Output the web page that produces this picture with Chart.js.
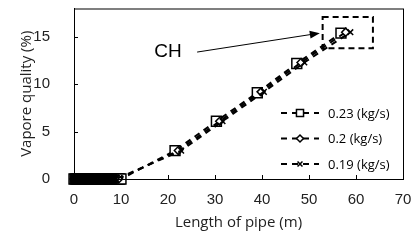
<!DOCTYPE html>
<html>
<head>
<meta charset="utf-8">
<script src="https://cdn.jsdelivr.net/npm/chart.js@4.4.0/dist/chart.umd.min.js"></script>
<style>
  html, body { margin: 0; padding: 0; background: #fff; }
</style>
</head>
<body>
<canvas id="myChart" width="416" height="240"></canvas>
<script>
// values
var seriesLabels = ['0.23 (kg/s)', '0.2 (kg/s)', '0.19 (kg/s)'];

var length023 = [0, 0.25, 0.5, 0.75, 1, 1.25, 1.5, 1.75, 2, 2.25, 2.5, 2.75, 3, 3.25, 3.5, 3.75, 4, 4.25, 4.5, 4.75, 5,
  5.25, 5.5, 5.75, 6, 6.25, 6.5, 6.75, 7, 7.25, 7.5, 7.75, 8, 8.25, 8.5, 8.75, 9, 9.25, 9.5, 9.75, 10,
  21.5, 30.3, 39.0, 47.4, 56.8];
var quality023 = [0, 0, 0, 0, 0, 0, 0, 0, 0, 0, 0, 0, 0, 0, 0, 0, 0, 0, 0, 0, 0,
  0, 0, 0, 0, 0, 0, 0, 0, 0, 0, 0, 0, 0, 0, 0, 0, 0, 0, 0, 0,
  3.0, 6.1, 9.1, 12.2, 15.4];

var length020 = [0, 0.25, 0.5, 0.75, 1, 1.25, 1.5, 1.75, 2, 2.25, 2.5, 2.75, 3, 3.25, 3.5, 3.75, 4, 4.25, 4.5, 4.75, 5,
  5.25, 5.5, 5.75, 6, 6.25, 6.5, 6.75, 7, 7.25, 7.5, 7.75, 8, 8.25, 8.5, 8.75, 9, 9.25, 9.5,
  22.2, 31.0, 39.8, 48.3, 57.8];
var quality020 = [0, 0, 0, 0, 0, 0, 0, 0, 0, 0, 0, 0, 0, 0, 0, 0, 0, 0, 0, 0, 0,
  0, 0, 0, 0, 0, 0, 0, 0, 0, 0, 0, 0, 0, 0, 0, 0, 0, 0,
  3.0, 6.1, 9.2, 12.3, 15.5];

var length019 = [0, 0.25, 0.5, 0.75, 1, 1.25, 1.5, 1.75, 2, 2.25, 2.5, 2.75, 3, 3.25, 3.5, 3.75, 4, 4.25, 4.5, 4.75, 5,
  5.25, 5.5, 5.75, 6, 6.25, 6.5, 6.75, 7, 7.25, 7.5, 7.75, 8, 8.25, 8.5, 8.75, 9,
  22.8, 31.6, 40.4, 49.0, 58.8];
var quality019 = [0, 0, 0, 0, 0, 0, 0, 0, 0, 0, 0, 0, 0, 0, 0, 0, 0, 0, 0, 0, 0,
  0, 0, 0, 0, 0, 0, 0, 0, 0, 0, 0, 0, 0, 0, 0, 0,
  3.0, 6.1, 9.2, 12.3, 15.5];

var xTicks = [0, 10, 20, 30, 40, 50, 60, 70];
var yTicks = [0, 5, 10, 15];

function toPoints(xs, ys) {
  return xs.map(function (x, i) { return { x: x, y: ys[i] }; });
}

var pointStyles = ['rect', 'rectRot', 'crossRot'];
var pointRadii = [7, 4, 4];
var dash = [6, 5];

// frame, inside tick marks, legend and the CH callout
var extras = {
  id: 'extras',
  afterDraw: function (chart) {
    var ctx = chart.ctx;
    var a = chart.chartArea;
    var xs = chart.scales.x, ys = chart.scales.y;
    ctx.save();
    ctx.strokeStyle = '#000';
    ctx.lineWidth = 1;
    ctx.strokeRect(a.left + 0.5, a.top + 0.5, a.right - a.left, a.bottom - a.top);

    ctx.beginPath();
    xTicks.forEach(function (v) {
      var px = Math.round(xs.getPixelForValue(v)) + 0.5;
      ctx.moveTo(px, a.bottom);
      ctx.lineTo(px, a.bottom - 4);
    });
    yTicks.forEach(function (v) {
      var py = Math.round(ys.getPixelForValue(v)) + 0.5;
      ctx.moveTo(a.left, py);
      ctx.lineTo(a.left + 4, py);
    });
    ctx.stroke();

    // CH callout
    ctx.fillStyle = '#000';
    ctx.font = '19px "Liberation Sans", Arial, sans-serif';
    ctx.textAlign = 'center';
    ctx.textBaseline = 'middle';
    ctx.fillText('CH', xs.getPixelForValue(20), ys.getPixelForValue(13.4));

    var x0 = xs.getPixelForValue(26.2), y0 = ys.getPixelForValue(13.4);
    var x1 = xs.getPixelForValue(52.3), y1 = ys.getPixelForValue(15.4);
    var ang = Math.atan2(y1 - y0, x1 - x0);
    ctx.beginPath();
    ctx.moveTo(x0, y0);
    ctx.lineTo(x1 - 8 * Math.cos(ang), y1 - 8 * Math.sin(ang));
    ctx.stroke();
    ctx.beginPath();
    ctx.moveTo(x1, y1);
    ctx.lineTo(x1 - 10 * Math.cos(ang) + 4 * Math.sin(ang), y1 - 10 * Math.sin(ang) - 4 * Math.cos(ang));
    ctx.lineTo(x1 - 10 * Math.cos(ang) - 4 * Math.sin(ang), y1 - 10 * Math.sin(ang) + 4 * Math.cos(ang));
    ctx.closePath();
    ctx.fill();

    ctx.lineWidth = 2;
    ctx.setLineDash([6, 4]);
    var rx0 = xs.getPixelForValue(52.9), rx1 = xs.getPixelForValue(63.6);
    var ry0 = ys.getPixelForValue(17.1), ry1 = ys.getPixelForValue(13.8);
    ctx.strokeRect(rx0, ry0, rx1 - rx0, ry1 - ry0);

    // legend
    ctx.font = '13px "Open Sans", sans-serif';
    ctx.textAlign = 'left';
    seriesLabels.forEach(function (lab, i) {
      var ly = a.bottom - 66 + i * 25.5;
      var lx = a.right - 122;
      ctx.strokeStyle = '#000';
      ctx.lineWidth = 2;
      ctx.setLineDash(dash);
      ctx.beginPath();
      ctx.moveTo(lx, ly);
      ctx.lineTo(lx + 38, ly);
      ctx.stroke();
      ctx.setLineDash([]);
      ctx.lineWidth = 1.5;
      ctx.fillStyle = '#fff';
      Chart.helpers.drawPoint(ctx, {
        pointStyle: pointStyles[i],
        radius: i === 0 ? 5 : 3.5,
        borderWidth: 1.5
      }, lx + 19, ly);
      ctx.fillStyle = '#000';
      ctx.fillText(lab, lx + 47, ly + 1);
    });
    ctx.restore();
  }
};

var ctx = document.getElementById('myChart');

var myChart = new Chart(ctx, {
  type: 'scatter',
  data: {
    datasets: [
      { label: seriesLabels[0], data: toPoints(length023, quality023), order: 3 },
      { label: seriesLabels[1], data: toPoints(length020, quality020), order: 2 },
      { label: seriesLabels[2], data: toPoints(length019, quality019), order: 1 }
    ].map(function (d, i) {
      d.showLine = true;
      d.clip = false;
      d.borderColor = '#000';
      d.backgroundColor = '#fff';
      d.borderWidth = 2;
      d.borderDash = dash;
      d.pointStyle = pointStyles[i];
      d.pointRadius = pointRadii[i];
      d.pointBorderWidth = 1.5;
      d.pointBackgroundColor = '#fff';
      d.pointBorderColor = '#000';
      return d;
    })
  },
  options: {
    responsive: false,
    animation: false,
    devicePixelRatio: 1,
    layout: { padding: { top: 8, right: 13, left: 0, bottom: 0 } },
    plugins: { legend: { display: false }, tooltip: { enabled: false } },
    scales: {
      x: {
        type: 'linear',
        min: 0,
        max: 70,
        afterBuildTicks: function (s) { s.ticks = xTicks.map(function (v) { return { value: v }; }); },
        afterFit: function (s) { s.height = 61; s.paddingRight = 0; },
        ticks: { color: '#222', padding: 4, font: { family: '"Liberation Sans", Arial', size: 15 } },
        grid: { display: false },
        border: { display: true, color: '#000' },
        title: {
          display: true,
          text: 'Length of pipe (m)',
          color: '#222',
          padding: { top: 0, bottom: 8 },
          font: { family: '"Open Sans", sans-serif', size: 15 }
        }
      },
      y: {
        min: 0,
        max: 18,
        afterBuildTicks: function (s) { s.ticks = yTicks.map(function (v) { return { value: v }; }); },
        afterFit: function (s) { s.width = 74; s.paddingTop = 0; },
        ticks: { color: '#222', padding: 16, font: { family: '"Liberation Sans", Arial', size: 15 } },
        grid: { display: false },
        border: { display: true, color: '#000' },
        title: {
          display: true,
          text: 'Vapore quality (%)',
          color: '#222',
          padding: { top: 18, bottom: 0 },
          font: { family: '"Open Sans", sans-serif', size: 15 }
        }
      }
    }
  },
  plugins: [extras]
});
</script>
</body>
</html>
